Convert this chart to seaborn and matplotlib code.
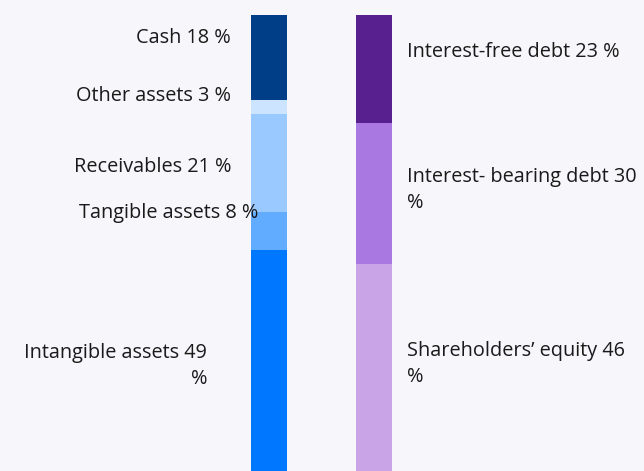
import matplotlib
matplotlib.use("Agg")
import matplotlib.pyplot as plt
import seaborn as sns

# balance sheet structure, % of total
asset_labels = ["Intangible assets 49\n%", "Tangible assets 8 %", "Receivables 21 %",
                "Other assets 3 %", "Cash 18 %"]
asset_values = [49, 8, 21, 3, 18]
asset_colors = ["#0077ff", "#62acff", "#99c9ff", "#cce4ff", "#003f87"]

liab_labels = ["Shareholders\u2019 equity 46\n%", "Interest- bearing debt 30\n%",
               "Interest-free debt 23 %"]
liab_values = [46, 30, 23]
liab_colors = ["#c9a5e8", "#a978e0", "#58208e"]

sides = ["Assets", "Liabilities"]

sns.set_style("white")
plt.rcParams["font.family"] = ["Open Sans", "DejaVu Sans"]
bg = "#f7f7fb"

fig = plt.figure(figsize=(6.44, 4.71), dpi=100, facecolor=bg)
ax = fig.add_axes([0, 0, 1, 1])
ax.set_facecolor(bg)


def stack(side, values, colors):
    # draw cumulative heights, tallest first, so lower segments sit on top
    tops = []
    s = 0
    for v in values:
        s += v
        tops.append(s)
    for top, c in reversed(list(zip(tops, colors))):
        sns.barplot(x=[side], y=[top], order=sides, color=c, width=0.343,
                    saturation=1, ax=ax, linewidth=0)


stack("Assets", asset_values, asset_colors)
stack("Liabilities", liab_values, liab_colors)

# bars run off the bottom edge a little
ax.set_xlim(-2.562, 3.571)
ax.set_ylim(1.98, 102.19)
ax.axis("off")


def px(x, y):
    return x / 644, 1 - y / 471


fs = 14.3
tc = "#1a1a1a"
# left labels (right aligned)
left_pos = {"Cash 18 %": (231, 38), "Other assets 3 %": (231, 96),
            "Receivables 21 %": (231, 167), "Tangible assets 8 %": (258, 213),
            "Intangible assets 49\n%": (207, 366)}
for lab in asset_labels:
    x, y = left_pos[lab]
    fig.text(*px(x, y), lab, ha="right", va="center", fontsize=fs, color=tc,
             linespacing=1.45, multialignment="right")

right_pos = {"Interest-free debt 23 %": (407, 52),
             "Interest- bearing debt 30\n%": (407, 190),
             "Shareholders\u2019 equity 46\n%": (407, 364)}
for lab in liab_labels:
    x, y = right_pos[lab]
    fig.text(*px(x, y), lab, ha="left", va="center", fontsize=fs, color=tc,
             linespacing=1.45)

fig.savefig("out.png", dpi=100, facecolor=bg)
